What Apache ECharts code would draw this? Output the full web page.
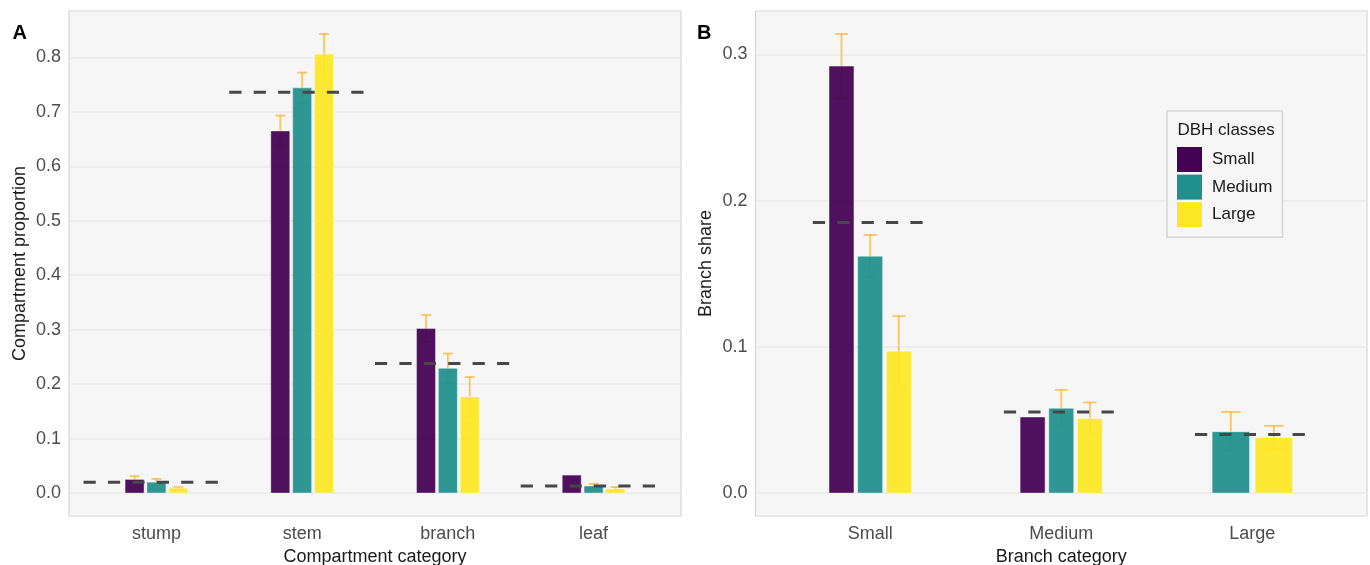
<!DOCTYPE html>
<html>
<head>
<meta charset="utf-8">
<script src="https://cdn.jsdelivr.net/npm/echarts@6/dist/echarts.min.js"></script>
<style>
  html, body { margin: 0; padding: 0; background: #ffffff; }
  #chart { width: 1370px; height: 565px; }
</style>
</head>
<body>
<div id="chart"></div>
<script>
// DBH classes (fill groups)
const dbhClasses = ['Small', 'Medium', 'Large'];

// Panel A: compartment proportions by DBH class
const compartmentCategories = ['stump', 'stem', 'branch', 'leaf'];
const compartmentSmall  = [0.025, 0.665, 0.302, 0.033];
const compartmentMedium = [0.020, 0.744, 0.229, 0.013];
const compartmentLarge  = [0.009, 0.806, 0.177, 0.008];
const compartmentSeSmall  = [0.006, 0.028, 0.025, null];
const compartmentSeMedium = [0.006, 0.028, 0.027, 0.004];
const compartmentSeLarge  = [0.002, 0.037, 0.036, 0.003];
const compartmentOverall  = [0.020, 0.736, 0.238, 0.013];
const compartmentTicks = [0, 0.1, 0.2, 0.3, 0.4, 0.5, 0.6, 0.7, 0.8];

// Panel B: branch share by branch size and DBH class
const branchCategories = ['Small', 'Medium', 'Large'];
const branchSmall  = [0.292, 0.052, null];
const branchMedium = [0.162, 0.058, 0.042];
const branchLarge  = [0.097, 0.051, 0.038];
const branchSeSmall  = [0.022, null, null];
const branchSeMedium = [0.0145, 0.0125, 0.0135];
const branchSeLarge  = [0.024, 0.011, 0.008];
const branchOverall  = [0.185, 0.0555, 0.040];
const branchTicks = [0, 0.1, 0.2, 0.3];

// ---- styling ----
const FONT = 'Liberation Sans, Arial, Helvetica, sans-serif';
const palette = ['#440154', '#21908C', '#FDE725'];
const errStyle = { stroke: 'rgba(255,176,40,0.72)', lineWidth: 1.8, fill: null };
const DODGE = 0.45;      // total dodge width per category (axis units)
const BAR_FILL = 0.87;   // share of a dodge slot covered by the bar
const CAP_FILL = 0.45;   // error cap width as share of a slot

function barSeries(panel, gi, means, ses, groups) {
  const data = means.map((v, i) => [i, v]).filter(d => d[1] != null);
  return {
    type: 'custom',
    name: dbhClasses[gi],
    xAxisIndex: panel, yAxisIndex: panel,
    itemStyle: { color: palette[gi] },
    encode: { x: 0, y: 1 },
    z: 3,
    silent: true,
    data: data,
    renderItem: function (params, api) {
      const cat = Math.round(api.value(0));
      const v = api.value(1);
      const present = groups.map(g => g[cat] != null);
      const n = present.filter(Boolean).length;
      let k = 0;
      for (let i = 0; i < gi; i++) if (present[i]) k++;
      const slot = DODGE / n;
      const cx = cat + (k - (n - 1) / 2) * slot;
      const unit = api.size([1, 0])[0];
      const top = api.coord([cx, v]);
      const base = api.coord([cx, 0]);
      const w = slot * unit * BAR_FILL;
      const children = [];
      const se = ses[cat];
      if (se != null) {
        const hi = api.coord([cx, v + se]);
        const lo = api.coord([cx, v - se]);
        const half = slot * CAP_FILL * unit / 2;
        children.push({ type: 'line', shape: { x1: top[0], y1: lo[1], x2: top[0], y2: hi[1] }, style: errStyle });
        children.push({ type: 'line', shape: { x1: top[0] - half, y1: hi[1], x2: top[0] + half, y2: hi[1] }, style: errStyle });
        children.push({ type: 'line', shape: { x1: top[0] - half, y1: lo[1], x2: top[0] + half, y2: lo[1] }, style: errStyle });
      }
      children.push({
        type: 'rect',
        shape: { x: top[0] - w / 2, y: top[1], width: w, height: base[1] - top[1] },
        style: { fill: palette[gi], opacity: 0.94, stroke: 'rgba(255,255,255,0.45)', lineWidth: 1 }
      });
      return { type: 'group', children: children };
    }
  };
}

function meanSeries(panel, means, halfWidth) {
  return {
    type: 'custom',
    xAxisIndex: panel, yAxisIndex: panel,
    encode: { x: 0, y: 1 },
    z: 5,
    silent: true,
    data: means.map((v, i) => [i, v]),
    renderItem: function (params, api) {
      const cat = api.value(0);
      const v = api.value(1);
      const a = api.coord([cat - halfWidth, v]);
      const b = api.coord([cat + halfWidth, v]);
      return {
        type: 'line',
        shape: { x1: a[0], y1: a[1], x2: b[0], y2: b[1] },
        style: { stroke: '#474747', lineWidth: 3, lineDash: [12.2, 12.2], lineCap: 'butt' }
      };
    }
  };
}

function yLimits(groups, seGroups) {
  let top = 0;
  groups.forEach((g, gi) => g.forEach((v, i) => {
    if (v != null) top = Math.max(top, v + (seGroups[gi][i] || 0));
  }));
  const pad = top * 0.05;
  return [-pad, top + pad];
}

const groupsA = [compartmentSmall, compartmentMedium, compartmentLarge];
const seA = [compartmentSeSmall, compartmentSeMedium, compartmentSeLarge];
const groupsB = [branchSmall, branchMedium, branchLarge];
const seB = [branchSeSmall, branchSeMedium, branchSeLarge];
const limA = yLimits(groupsA, seA);
const limB = yLimits(groupsB, seB);

function xAxisFor(panel, cats, title) {
  const idx = cats.map((c, i) => i);
  return {
    type: 'value', gridIndex: panel,
    min: -0.6, max: cats.length - 1 + 0.6,
    axisLine: { show: false },
    axisTick: { show: false, customValues: idx },
    splitLine: { show: false },
    axisLabel: {
      customValues: idx,
      formatter: v => (Number.isInteger(v) ? (cats[v] || '') : ''),
      fontFamily: FONT, fontSize: 18, color: '#4D4D4D', margin: 9
    },
    name: title, nameLocation: 'middle', nameGap: 31,
    nameTextStyle: { fontFamily: FONT, fontSize: 18, color: '#1A1A1A' }
  };
}

function yAxisFor(panel, lim, ticks, title) {
  return {
    type: 'value', gridIndex: panel,
    min: lim[0], max: lim[1],
    axisLine: { show: false },
    axisTick: { show: false, customValues: ticks },
    splitLine: { show: true, lineStyle: { color: '#E9E9E9', width: 1.5 } },
    axisLabel: {
      customValues: ticks,
      formatter: v => v.toFixed(1),
      fontFamily: FONT, fontSize: 18, color: '#4D4D4D', margin: 8
    },
    name: title, nameLocation: 'middle', nameGap: 40,
    nameTextStyle: { fontFamily: FONT, fontSize: 18, color: '#1A1A1A' }
  };
}

const panelGrid = {
  show: true, backgroundColor: '#F6F6F6', borderColor: '#D6D6D6', borderWidth: 1.2,
  top: 11, height: 505,
  containLabel: false,
  outerBoundsMode: 'none'
};

const option = {
  animation: false,
  backgroundColor: '#ffffff',
  grid: [
    Object.assign({ left: 69, width: 612 }, panelGrid),
    Object.assign({ left: 755.5, width: 611.5 }, panelGrid)
  ],
  xAxis: [
    xAxisFor(0, compartmentCategories, 'Compartment category'),
    xAxisFor(1, branchCategories, 'Branch category')
  ],
  yAxis: [
    yAxisFor(0, limA, compartmentTicks, 'Compartment proportion'),
    yAxisFor(1, limB, branchTicks, 'Branch share')
  ],
  legend: {
    data: dbhClasses.map(n => ({ name: n, icon: 'rect' })),
    orient: 'vertical',
    left: 1167, top: 111,
    padding: [36, 10, 10, 10],
    itemWidth: 25, itemHeight: 25, itemGap: 2.6,
    backgroundColor: '#F6F6F6', borderColor: '#D6D6D6', borderWidth: 1.5,
    selectedMode: false,
    textStyle: { fontFamily: FONT, fontSize: 17, color: '#1A1A1A', padding: [0, 0, 0, 5] }
  },
  graphic: [
    { type: 'text', x: 12.5, y: 33.7, z: 100, style: { text: 'A', font: 'bold 20px ' + FONT, fill: '#000', verticalAlign: 'middle' } },
    { type: 'text', x: 697, y: 33.7, z: 100, style: { text: 'B', font: 'bold 20px ' + FONT, fill: '#000', verticalAlign: 'middle' } },
    { type: 'text', x: 1177.5, y: 130, z: 100, style: { text: 'DBH classes', font: '17px ' + FONT, fill: '#1A1A1A', verticalAlign: 'middle' } }
  ],
  series: [
    barSeries(0, 0, compartmentSmall, compartmentSeSmall, groupsA),
    barSeries(0, 1, compartmentMedium, compartmentSeMedium, groupsA),
    barSeries(0, 2, compartmentLarge, compartmentSeLarge, groupsA),
    meanSeries(0, compartmentOverall, 0.5),
    barSeries(1, 0, branchSmall, branchSeSmall, groupsB),
    barSeries(1, 1, branchMedium, branchSeMedium, groupsB),
    barSeries(1, 2, branchLarge, branchSeLarge, groupsB),
    meanSeries(1, branchOverall, 0.3)
  ]
};

const chart = echarts.init(document.getElementById('chart'), null, { renderer: 'canvas' });
chart.setOption(option);
</script>
</body>
</html>
